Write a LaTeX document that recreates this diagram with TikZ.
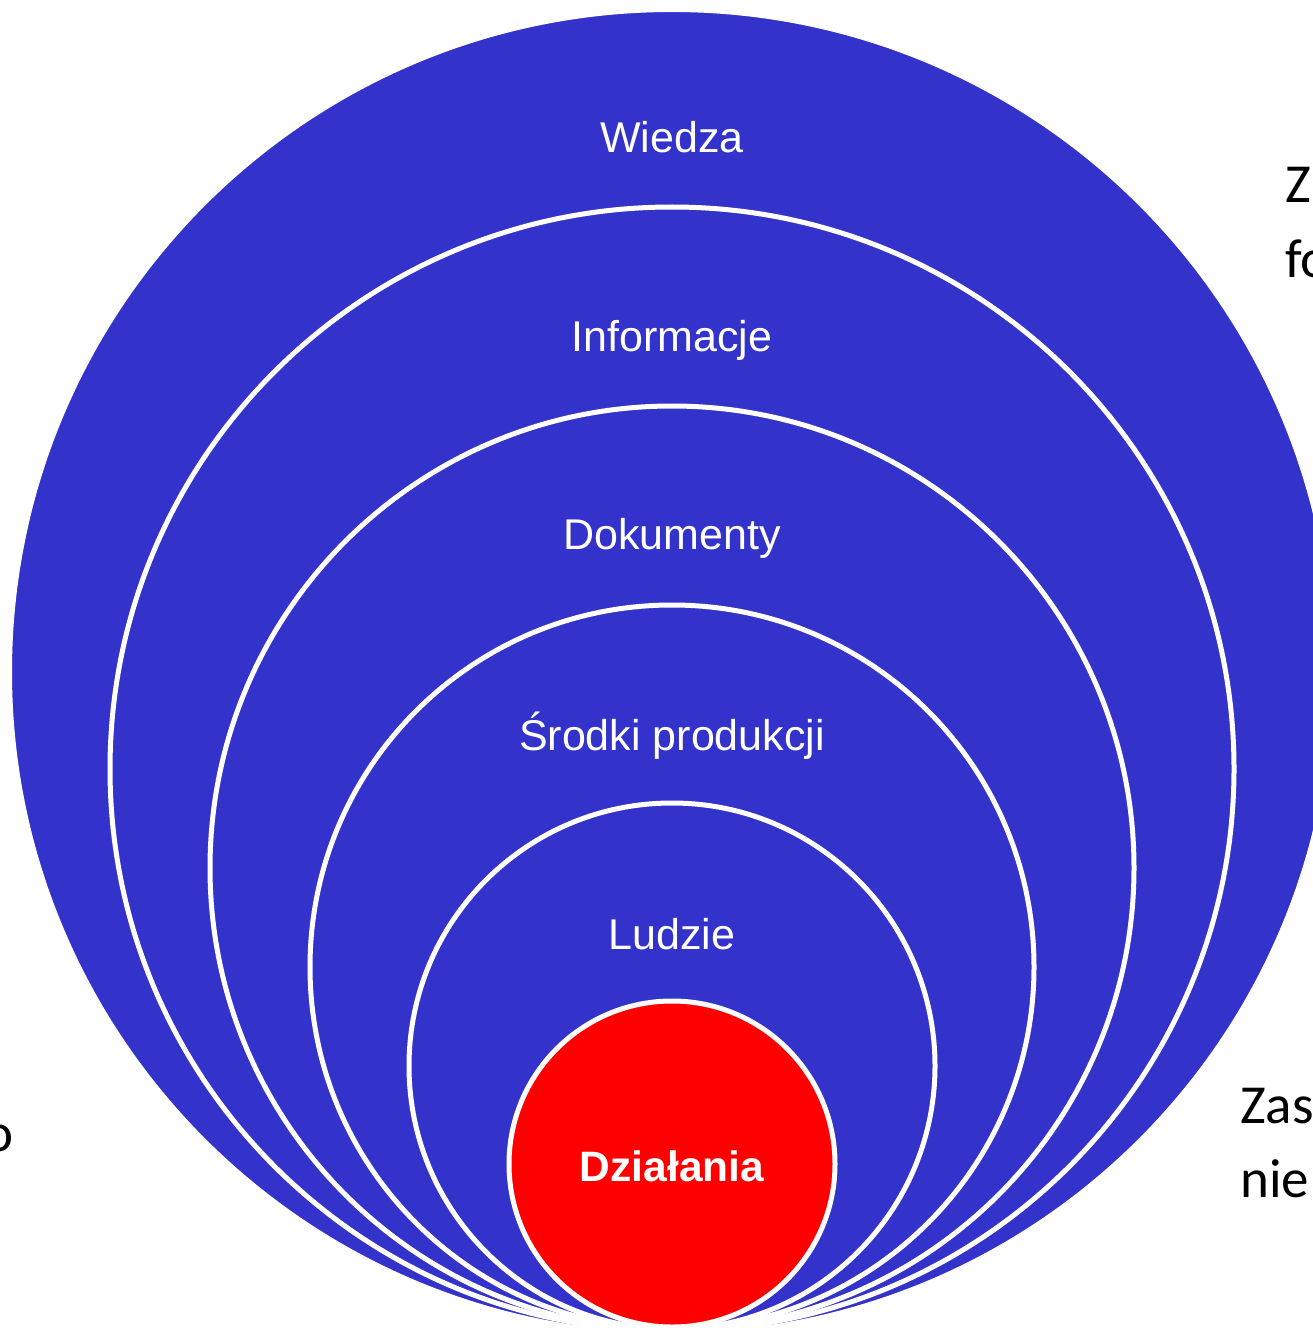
\documentclass[tikz,border=0pt]{standalone}
\usepackage{fontspec}
\setmainfont{Liberation Sans}
\newfontfamily\notefont{Carlito}
\definecolor{ringblue}{RGB}{51,51,204}
\definecolor{corered}{RGB}{255,0,0}
\begin{document}
\begin{tikzpicture}[x=1pt,y=-1pt,
  ring/.style={circle, draw=white, line width=5pt, fill=ringblue, inner sep=0pt, minimum size=#1},
  core/.style={circle, draw=white, line width=5pt, fill=corered, inner sep=0pt, minimum size=#1},
  ringlabel/.style={anchor=base, inner sep=0pt, text=white, font=\fontsize{43}{50}\selectfont},
  corelabel/.style={anchor=base, inner sep=0pt, text=white, font=\fontsize{42.5}{50}\selectfont\bfseries},
  note/.style={anchor=base west, inner sep=0pt, text=black, font=\notefont\fontsize{55}{67}\selectfont}]
\useasboundingbox (0,0) rectangle (1313,1332);
\clip (0,0) rectangle (1313,1332);
\fill[white] (0,0) rectangle (1313,1332);

% side notes behind the rings
\node[note] (noteA1) at (1285,203) {Z};
\node[note] (noteA2) at (1285,277) {fo};
\node[note] (noteB1) at (1240,1123) {Zas};
\node[note] (noteB2) at (1240,1197) {nie};
\node[note] (noteC)  at (-16,1151) {o};

% nested rings, all touching near the bottom
\node[ring=1325pt] (r1) at (672,672) {};
\node[ring=1124pt] (r2) at (672,769) {};
\node[ring=924pt]  (r3) at (672,868) {};
\node[ring=724pt]  (r4) at (672,967) {};
\node[ring=526pt]  (r5) at (672,1066) {};
\node[core=326pt]  (r6) at (672,1164) {};

% ring labels
\node[ringlabel] (l1) at (672,153) {Wiedza};
\node[ringlabel] (l2) at (672,351) {Informacje};
\node[ringlabel] (l3) at (672,549) {Dokumenty};
\node[ringlabel] (l4) at (672,750) {Środki produkcji};
\node[ringlabel] (l5) at (672,949) {Ludzie};
\node[corelabel] (l6) at (672,1181) {Działania};
\end{tikzpicture}
\end{document}
